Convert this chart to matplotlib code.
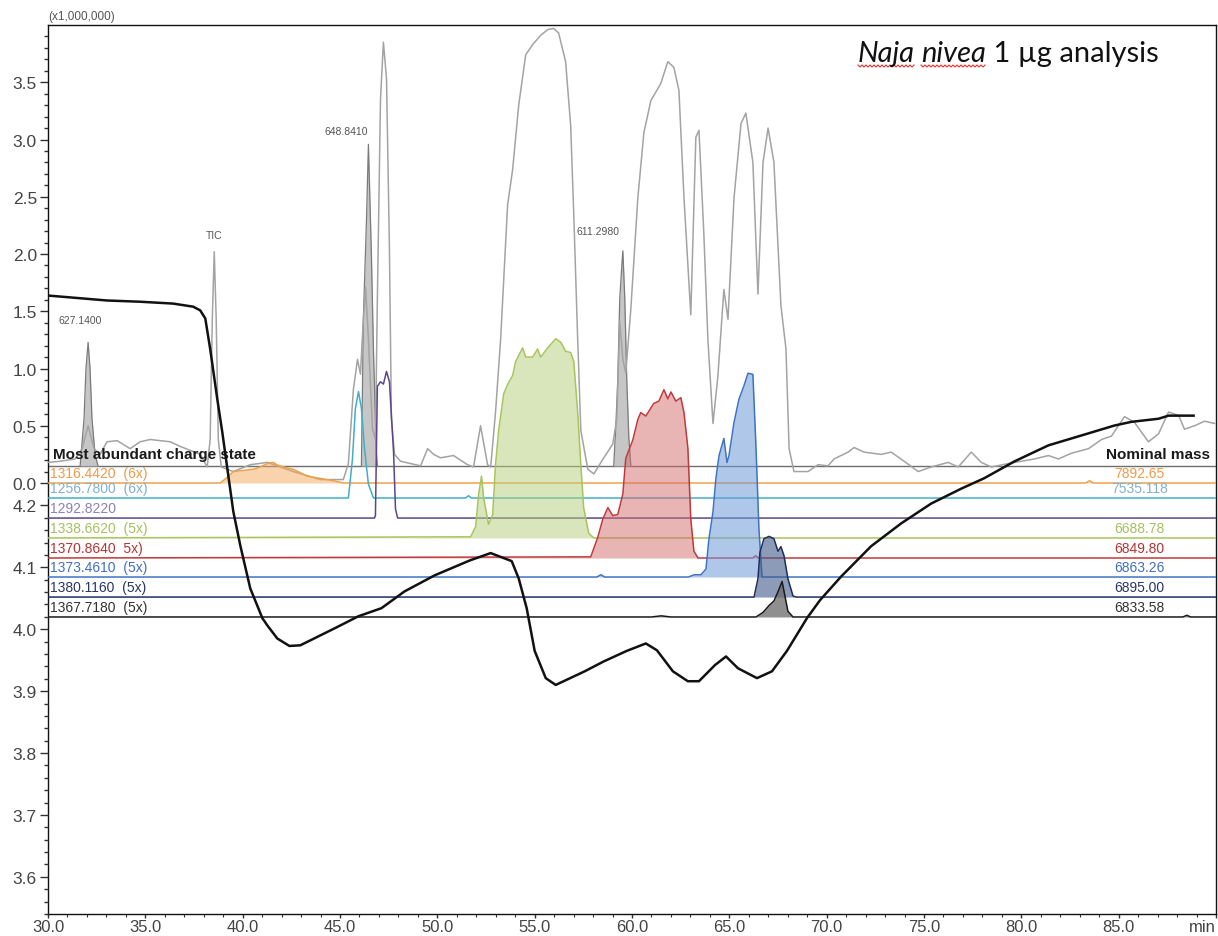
import matplotlib
matplotlib.use("Agg")
import matplotlib.pyplot as plt
import numpy as np

plt.rcParams['font.family'] = ['Liberation Sans', 'DejaVu Sans']

# ---------------- data ----------------
# Total ion chromatogram (x1,000,000 counts) vs retention time (min)
tic_t = [30.0, 30.62, 31.39, 31.75, 32.06, 32.37, 32.67, 33.03, 33.55, 34.22, 34.73, 35.25, 36.28, 36.79,
         37.82, 38.18, 38.33, 38.44, 38.54, 38.64, 38.75, 38.90, 39.52, 40.39, 41.27, 41.93, 42.60, 43.99,
         45.17, 45.43, 45.69, 45.90, 46.05, 46.20, 46.31, 46.46, 46.67, 46.82, 46.92, 47.08, 47.23, 47.39,
         47.54, 47.64, 47.80, 48.11, 48.62, 49.14, 49.50, 49.81, 50.16, 50.83, 51.55, 51.86, 52.22, 52.58,
         52.74, 52.99, 53.25, 53.61, 53.87, 54.18, 54.54, 54.90, 55.31, 55.67, 55.98, 56.23, 56.59, 56.85,
         57.01, 57.21, 57.37, 57.73, 58.04, 58.55, 59.01, 59.22, 59.37, 59.53, 59.68, 59.94, 60.30, 60.61,
         60.97, 61.48, 61.84, 62.15, 62.41, 62.67, 63.02, 63.28, 63.44, 63.69, 63.90, 64.16, 64.41, 64.72,
         64.93, 65.24, 65.60, 65.85, 66.21, 66.47, 66.73, 66.99, 67.29, 67.65, 67.91, 68.07, 68.32, 69.04,
         69.56, 70.07, 70.38, 71.10, 71.41, 71.92, 72.80, 73.31, 73.98, 74.70, 75.37, 76.24, 76.76, 77.43,
         77.94, 78.46, 79.33, 80.67, 81.39, 81.90, 82.57, 83.45, 84.12, 84.63, 85.30, 85.81, 86.53, 87.05,
         87.56, 88.08, 88.38, 88.90, 89.41, 89.93]
tic_v = [0.18, 0.19, 0.21, 0.30, 0.50, 0.30, 0.25, 0.36, 0.37, 0.30, 0.36, 0.38, 0.36, 0.32,
         0.25, 0.14, 0.38, 1.43, 2.02, 1.43, 0.38, 0.14, 0.10, 0.16, 0.18, 0.14, 0.10, 0.03,
         0.03, 0.17, 0.82, 1.08, 0.95, 1.43, 1.71, 1.26, 0.47, 0.38, 1.61, 3.35, 3.85, 3.53,
         2.04, 0.56, 0.25, 0.19, 0.17, 0.15, 0.30, 0.25, 0.22, 0.24, 0.16, 0.14, 0.50, 0.16,
         0.14, 0.62, 1.25, 2.43, 2.74, 3.30, 3.74, 3.83, 3.91, 3.96, 3.97, 3.93, 3.68, 3.12,
         2.34, 1.25, 0.46, 0.12, 0.08, 0.22, 0.34, 0.56, 1.41, 1.08, 0.96, 1.52, 2.49, 3.06,
         3.34, 3.49, 3.68, 3.63, 3.43, 2.49, 1.47, 3.02, 3.08, 2.18, 1.25, 0.52, 0.93, 1.69,
         1.43, 2.49, 3.14, 3.23, 2.80, 1.65, 2.80, 3.10, 2.80, 1.55, 1.17, 0.30, 0.10, 0.10,
         0.16, 0.15, 0.21, 0.27, 0.31, 0.27, 0.25, 0.27, 0.19, 0.10, 0.14, 0.18, 0.14, 0.27,
         0.18, 0.14, 0.17, 0.21, 0.24, 0.21, 0.26, 0.30, 0.38, 0.41, 0.58, 0.53, 0.36, 0.43,
         0.62, 0.59, 0.47, 0.50, 0.54, 0.52]

# Pump pressure trace (secondary scale, lower tick labels)
press_t = [30.0, 33.03, 34.73, 36.43, 37.46, 37.82, 38.08, 38.33, 38.69, 38.95, 39.21, 39.52, 39.88,
           40.39, 41.01, 41.27, 41.78, 42.40, 42.96, 44.76, 45.95, 47.13, 48.31, 49.86, 51.66, 52.74,
           53.82, 54.18, 54.59, 55.00, 55.57, 56.08, 57.57, 58.55, 59.73, 60.71, 61.28, 62.10, 62.87,
           63.44, 64.26, 64.83, 65.44, 66.42, 67.19, 67.96, 68.99, 69.66, 70.74, 72.28, 73.83, 75.37,
           76.91, 78.10, 79.64, 81.39, 83.09, 84.78, 85.66, 87.05, 87.56, 88.85]
press_v = [4.539, 4.531, 4.529, 4.526, 4.521, 4.515, 4.502, 4.453, 4.373, 4.319, 4.260, 4.190, 4.135,
           4.066, 4.018, 4.006, 3.985, 3.973, 3.974, 4.002, 4.021, 4.034, 4.061, 4.087, 4.111, 4.123,
           4.110, 4.082, 4.034, 3.965, 3.921, 3.910, 3.932, 3.948, 3.965, 3.977, 3.966, 3.932, 3.916,
           3.916, 3.942, 3.956, 3.937, 3.921, 3.932, 3.965, 4.018, 4.047, 4.085, 4.134, 4.171, 4.203,
           4.227, 4.244, 4.271, 4.297, 4.313, 4.329, 4.335, 4.340, 4.345, 4.345]

# Extracted ion chromatograms of small ions (grey, common baseline)
xic627_t = [31.65, 31.85, 31.95, 32.06, 32.16, 32.26, 32.42, 32.57]
xic627_h = [0.00, 0.41, 0.85, 1.08, 0.85, 0.41, 0.10, 0.00]
xic648_t = [46.10, 46.20, 46.36, 46.46, 46.61, 46.72, 46.87, 46.92]
xic648_h = [0.00, 1.28, 2.15, 2.81, 1.87, 1.00, 0.12, 0.00]
xic611_t = [59.06, 59.17, 59.27, 59.37, 59.48, 59.53, 59.63, 59.73, 59.84, 59.94]
xic611_h = [0.00, 0.35, 0.76, 1.46, 1.76, 1.88, 1.46, 0.76, 0.24, 0.00]
small_ion_labels = ["627.1400", "648.8410", "611.2980"]

# Extracted ion chromatograms of the most abundant charge state of each toxin
xic1316_t = [38.85, 39.21, 39.52, 40.55, 40.90, 41.27, 41.57, 41.75, 42.09, 42.60, 43.32, 43.99, 44.66,
             45.17, 83.30, 83.50, 83.70]
xic1316_h = [0.00, 0.05, 0.10, 0.12, 0.14, 0.17, 0.18, 0.16, 0.14, 0.12, 0.06, 0.04, 0.02,
             0.00, 0.00, 0.02, 0.00]
xic1256_t = [45.43, 45.64, 45.79, 45.95, 46.10, 46.26, 46.46, 46.72, 51.45, 51.60, 51.75]
xic1256_h = [0.00, 0.34, 0.78, 0.93, 0.78, 0.43, 0.12, 0.00, 0.00, 0.02, 0.00]
xic1292_t = [46.77, 46.82, 46.92, 47.08, 47.23, 47.39, 47.54, 47.75, 47.85, 47.96]
xic1292_h = [0.00, 0.02, 1.15, 1.19, 1.17, 1.28, 1.19, 0.58, 0.08, 0.00]
xic1338_t = [51.71, 51.97, 52.12, 52.27, 52.38, 52.63, 52.84, 52.99, 53.15, 53.41, 53.61, 53.87, 54.02,
             54.38, 54.54, 54.90, 55.15, 55.31, 55.67, 56.08, 56.34, 56.59, 56.85, 57.01, 57.21, 57.37,
             57.52, 57.78, 58.04]
xic1338_h = [0.01, 0.10, 0.38, 0.54, 0.35, 0.12, 0.20, 0.64, 0.94, 1.26, 1.34, 1.42, 1.54,
             1.66, 1.58, 1.58, 1.65, 1.58, 1.66, 1.74, 1.71, 1.63, 1.62, 1.54, 1.10, 0.64,
             0.26, 0.04, 0.00]
xic1370_t = [57.88, 58.24, 58.50, 58.76, 59.01, 59.27, 59.53, 59.68, 60.04, 60.30, 60.45, 60.71, 60.97,
             61.12, 61.38, 61.64, 61.84, 62.00, 62.25, 62.51, 62.67, 62.87, 63.02, 63.18, 63.39,
             66.20, 66.35, 66.50]
xic1370_h = [0.01, 0.18, 0.34, 0.44, 0.37, 0.38, 0.56, 0.87, 1.03, 1.21, 1.27, 1.24, 1.31,
             1.35, 1.37, 1.47, 1.39, 1.45, 1.37, 1.40, 1.27, 0.96, 0.34, 0.06, 0.00,
             0.00, 0.02, 0.00]
xic1373_t = [58.20, 58.40, 58.60, 62.90, 63.20, 63.54, 63.80, 63.95, 64.16, 64.31, 64.47, 64.72, 64.88,
             64.98, 65.24, 65.49, 65.75, 65.96, 66.21, 66.37, 66.52, 66.68]
xic1373_h = [0.00, 0.02, 0.00, 0.00, 0.02, 0.02, 0.07, 0.33, 0.57, 0.86, 1.06, 1.21, 1.00,
             1.06, 1.35, 1.55, 1.67, 1.78, 1.77, 1.13, 0.42, 0.00]
xic1380_t = [66.27, 66.47, 66.57, 66.78, 67.04, 67.29, 67.50, 67.65, 67.81, 68.01, 68.27, 68.43]
xic1380_h = [0.00, 0.16, 0.39, 0.51, 0.53, 0.51, 0.40, 0.44, 0.36, 0.16, 0.01, 0.00]
xic1367_t = [61.00, 61.50, 62.00, 66.37, 66.73, 67.04, 67.29, 67.50, 67.71, 67.86, 68.01, 68.27,
             88.30, 88.50, 88.70]
xic1367_h = [0.00, 0.01, 0.00, 0.00, 0.04, 0.10, 0.14, 0.22, 0.31, 0.18, 0.05, 0.00,
             0.00, 0.015, 0.00]

charge_labels = ["1316.4420  (6x)", "1256.7800  (6x)", "1292.8220", "1338.6620  (5x)",
                 "1370.8640  5x)", "1373.4610  (5x)", "1380.1160  (5x)", "1367.7180  (5x)"]
nominal_masses = ["7892.65", "7535.118", "", "6688.78", "6849.80", "6863.26", "6895.00", "6833.58"]

x_ticks = [30, 35, 40, 45, 50, 55, 60, 65, 70, 75, 80, 85, 90]
x_tick_labels = ["30.0", "35.0", "40.0", "45.0", "50.0", "55.0", "60.0", "65.0", "70.0", "75.0",
                 "80.0", "85.0", "min"]
tic_ticks = [0.0, 0.5, 1.0, 1.5, 2.0, 2.5, 3.0, 3.5]
press_ticks = [3.6, 3.7, 3.8, 3.9, 4.0, 4.1, 4.2]

# ---------------- styling / layout ----------------
W, H = 1218, 937
small_base = 0.148
stack_bases = [0.0, -0.131, -0.306, -0.480, -0.655, -0.821, -0.996, -1.170]
line_cols = ["#F0A04B", "#41AEC6", "#5B4688", "#A9C45A", "#C0393B", "#3F73C2", "#1F2D5C", "#1A1A1A"]
fill_cols = ["#F5A85A", None, None, "#B5CF7A", "#D46A6A", "#6E9BD8", "#3F5A8A", "#6A6A6A"]
fill_alpha = [0.5, 0, 0, 0.5, 0.5, 0.55, 0.6, 0.75]
text_cols = ["#EE9A4A", "#7FB0D0", "#8F80B5", "#A5C060", "#B83232", "#4070C0", "#2A3566", "#333333"]

traces = [(xic1316_t, xic1316_h), (xic1256_t, xic1256_h), (xic1292_t, xic1292_h),
          (xic1338_t, xic1338_h), (xic1370_t, xic1370_h), (xic1373_t, xic1373_h),
          (xic1380_t, xic1380_h), (xic1367_t, xic1367_h)]

fig = plt.figure(figsize=(W / 100, H / 100), dpi=100)
ax = fig.add_axes([48 / W, 1 - 915 / H, (1216 - 48) / W, (915 - 26) / H])
ax.set_xlim(30, 90)
ax.set_ylim(-3.764, 4.0)

# grey baseline for the small-ion chromatograms
ax.plot([30, 90], [small_base, small_base], color="#6E6E6E", lw=1.0, zorder=2)
for t, h in [(xic627_t, xic627_h), (xic648_t, xic648_h), (xic611_t, xic611_h)]:
    t = np.asarray(t)
    y = small_base + np.asarray(h)
    ax.fill_between(t, small_base, y, color="#B8B8B8", alpha=0.8, lw=0, zorder=2)
    ax.plot(t, y, color="#7A7A7A", lw=0.9, zorder=3)

# TIC
ax.plot(tic_t, tic_v, color="#A3A3A3", lw=1.1, zorder=4)

# stacked extracted-ion chromatograms
for i, ((t, h), base) in enumerate(zip(traces, stack_bases)):
    tt = np.concatenate([[30.0], t, [90.0]])
    yy = base + np.concatenate([[0.0], h, [0.0]])
    if fill_cols[i] is not None:
        ax.fill_between(tt, base, yy, color=fill_cols[i], alpha=fill_alpha[i], lw=0, zorder=5 + i)
    ax.plot(tt, yy, color=line_cols[i], lw=1.1, zorder=5.5 + i)
    ax.text(30.1, base + 0.087, charge_labels[i], color=text_cols[i], fontsize=10,
            ha="left", va="center", zorder=20)
    if nominal_masses[i]:
        ax.text(86.07, base + 0.087, nominal_masses[i], color=text_cols[i], fontsize=10,
                ha="center", va="center", zorder=20)

ax.text(30.26, 0.253, "Most abundant charge state", fontsize=11, fontweight="bold",
        color="#1A1A1A", ha="left", va="center", zorder=20)
ax.text(89.67, 0.253, "Nominal mass", fontsize=11, fontweight="bold",
        color="#1A1A1A", ha="right", va="center", zorder=20)

# peak annotations
ann_style = dict(fontsize=7.5, color="#555555", ha="center", va="center", zorder=20)
ax.text(31.65, 1.42, small_ion_labels[0], **ann_style)
ax.text(45.33, 3.07, small_ion_labels[1], **ann_style)
ax.text(58.24, 2.20, small_ion_labels[2], **ann_style)
ax.text(38.54, 2.17, "TIC", **ann_style)

# axes cosmetics
ax.set_xticks(x_ticks)
ax.set_xticklabels(x_tick_labels)
ax.set_xticks(np.arange(31, 90, 1), minor=True)
ax.set_yticks(tic_ticks)
ax.set_yticklabels([f"{v:.1f}" for v in tic_ticks])
ax.set_yticks([v / 10 for v in range(1, 40) if v % 5], minor=True)
for s in ax.spines.values():
    s.set_color("#111111")
    s.set_linewidth(1.0)
ax.tick_params(axis="y", which="major", direction="out", length=6, width=1, color="#333333",
               labelsize=12.5, labelcolor="#444444", pad=2, right=False)
ax.tick_params(axis="y", which="minor", direction="out", length=3, width=1, color="#333333", right=False)
ax.tick_params(axis="x", which="major", direction="out", length=3, width=1, color="#333333",
               labelsize=12, labelcolor="#444444", pad=0.5, top=False)
ax.tick_params(axis="x", which="minor", direction="out", length=2, width=0.8, color="#333333", top=False)
ax.get_xticklabels()[-1].set_horizontalalignment("right")

# secondary scale for the pressure trace
ax2 = ax.twinx()
ax2.set_ylim(3.542, 4.976)
for s in ax2.spines.values():
    s.set_visible(False)
ax2.yaxis.set_ticks_position("left")
ax2.set_yticks(press_ticks)
ax2.set_yticklabels([f"{v:.1f}" for v in press_ticks])
ax2.set_yticks([v / 100 for v in range(354, 420, 2) if v % 10], minor=True)
ax2.tick_params(axis="y", which="major", direction="out", length=6, width=1, color="#333333",
                labelsize=12.5, labelcolor="#444444", pad=2, left=True, right=False,
                labelleft=True, labelright=False)
ax2.tick_params(axis="y", which="minor", direction="out", length=3, width=1, color="#333333",
                left=True, right=False)
ax2.plot(press_t, press_v, color="#111111", lw=1.8, zorder=30)

fig.text(48 / W, 1 - 17 / H, "(x1,000,000)", fontsize=8.5, color="#555555", ha="left", va="center")

# title with spell-check squiggles
fig.canvas.draw()
rend = fig.canvas.get_renderer()
tfont = dict(family="Lato", fontsize=21, color="#111111", va="baseline")
y_base = 1 - 62 / H
x_cur = 858
word_spans = []
for word, style in [("Naja", "italic"), (" ", "normal"), ("nivea", "italic"), (" 1 µg analysis", "normal")]:
    txt = fig.text(x_cur / W, y_base, word, fontstyle=style, **tfont)
    bb = txt.get_window_extent(rend)
    if word.strip() and style == "italic":
        word_spans.append((bb.x0, bb.x1))
    x_cur = bb.x1 if word != " " else x_cur + 6
for x0, x1 in word_spans:
    xs = np.arange(x0, x1, 2.0)
    ys = (H - 67) + np.where(np.arange(len(xs)) % 2 == 0, 1.0, -1.0)
    fig.add_artist(plt.Line2D(xs / W, ys / H, color="#E03030", lw=0.8, transform=fig.transFigure))

fig.savefig("out.png", dpi=100)
